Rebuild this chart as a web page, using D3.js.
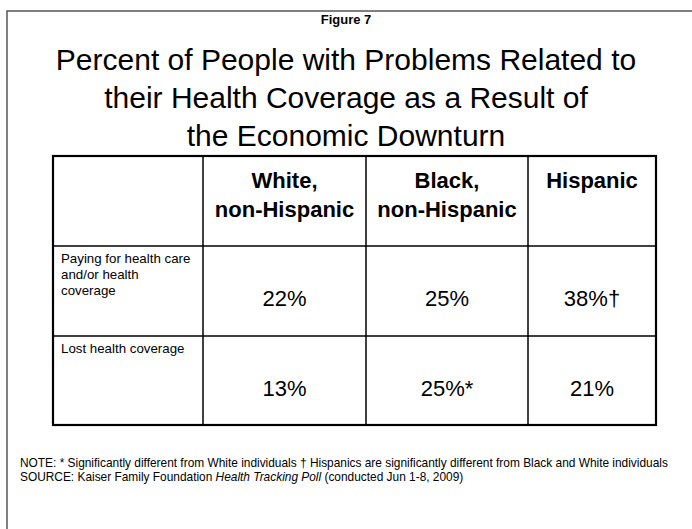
<!DOCTYPE html>
<html><head><meta charset="utf-8">
<script src="https://cdn.jsdelivr.net/npm/d3@7"></script>
<style>html,body{margin:0;padding:0;background:#fff;}svg{display:block;font-family:"Liberation Sans",Arial,sans-serif;}</style>
</head><body>
<svg id="c" width="692" height="529"></svg>
<script>
const figureLabel = "Figure 7";
const titleLines = ["Percent of People with Problems Related to", "their Health Coverage as a Result of", "the Economic Downturn"];
const columns = [["White,", "non-Hispanic"], ["Black,", "non-Hispanic"], ["Hispanic"]];
const rowLabels = [["Paying for health care", "and/or health", "coverage"], ["Lost health coverage"]];
const payingValues = [22, 25, 38];
const payingMarks = ["", "", "†"];
const lostValues = [13, 25, 21];
const lostMarks = ["", "*", ""];
const noteText = "NOTE: * Significantly different from White individuals † Hispanics are significantly different from Black and White individuals";
const sourceParts = [["SOURCE: Kaiser Family Foundation ", "normal"], ["Health Tracking Poll", "italic"], [" (conducted Jun 1-8, 2009)", "normal"]];

const svg = d3.select("#c");

// outer frame
svg.append("path").attr("d", "M7,529 V11 H692").attr("fill", "none").attr("stroke", "#555").attr("stroke-width", 1.5);

svg.append("text").attr("x", 346).attr("y", 24).attr("text-anchor", "middle")
  .attr("font-size", 13).attr("font-weight", "bold").text(figureLabel);

const titleY = d3.scalePoint().domain(d3.range(titleLines.length)).range([70, 146]);
svg.selectAll("text.title").data(titleLines).join("text").attr("class", "title")
  .attr("x", 346).attr("y", (d, i) => titleY(i)).attr("text-anchor", "middle")
  .attr("font-size", 30).attr("fill", "#000").text(d => d);

// table layout scales
const colKeys = ["label", "c0", "c1", "c2"];
const colEdge = d3.scaleOrdinal().domain(colKeys.concat(["end"])).range([53, 203, 366, 528, 656]);
const rowKeys = ["header", "r0", "r1"];
const rowEdge = d3.scaleOrdinal().domain(rowKeys.concat(["end"])).range([156, 246, 336, 425]);
const colCenter = k => (colEdge(k) + colEdge(colKeys[colKeys.indexOf(k) + 1] || "end")) / 2;

const g = svg.append("g");
// inner lines
colKeys.slice(1).forEach(k => g.append("line").attr("x1", colEdge(k)).attr("x2", colEdge(k))
  .attr("y1", rowEdge("header")).attr("y2", rowEdge("end")).attr("stroke", "#000").attr("stroke-width", 1.5));
["r0", "r1"].forEach(k => g.append("line").attr("x1", colEdge("label")).attr("x2", colEdge("end"))
  .attr("y1", rowEdge(k)).attr("y2", rowEdge(k)).attr("stroke", "#000").attr("stroke-width", 1.5));
g.append("rect").attr("x", colEdge("label")).attr("y", rowEdge("header"))
  .attr("width", colEdge("end") - colEdge("label")).attr("height", rowEdge("end") - rowEdge("header"))
  .attr("fill", "none").attr("stroke", "#000").attr("stroke-width", 2.2);

// headers
columns.forEach((lines, i) => {
  const t = g.append("text").attr("text-anchor", "middle").attr("font-size", 22).attr("font-weight", "bold");
  lines.forEach((ln, j) => t.append("tspan").attr("x", colCenter("c" + i)).attr("y", rowEdge("header") + 32 + j * 29).text(ln));
});

// row labels
rowLabels.forEach((lines, r) => {
  const t = g.append("text").attr("font-size", 13.3);
  lines.forEach((ln, j) => t.append("tspan").attr("x", colEdge("label") + 8).attr("y", rowEdge("r" + r) + 17 + j * 16).text(ln));
});

// values
const rowsData = [[payingValues, payingMarks], [lostValues, lostMarks]];
rowsData.forEach(([vals, marks], r) => {
  g.selectAll("text.v" + r).data(vals).join("text").attr("class", "v" + r)
    .attr("x", (d, i) => colCenter("c" + i)).attr("y", rowEdge("r" + r) + 60)
    .attr("text-anchor", "middle").attr("font-size", 22)
    .text((d, i) => d + "%" + marks[i]);
});

// footnotes
svg.append("text").attr("x", 20).attr("y", 467).attr("font-size", 11.9).text(noteText);
const s = svg.append("text").attr("x", 20).attr("y", 481).attr("font-size", 11.9);
sourceParts.forEach(([t, st]) => s.append("tspan").attr("font-style", st).text(t));
</script>
</body></html>
